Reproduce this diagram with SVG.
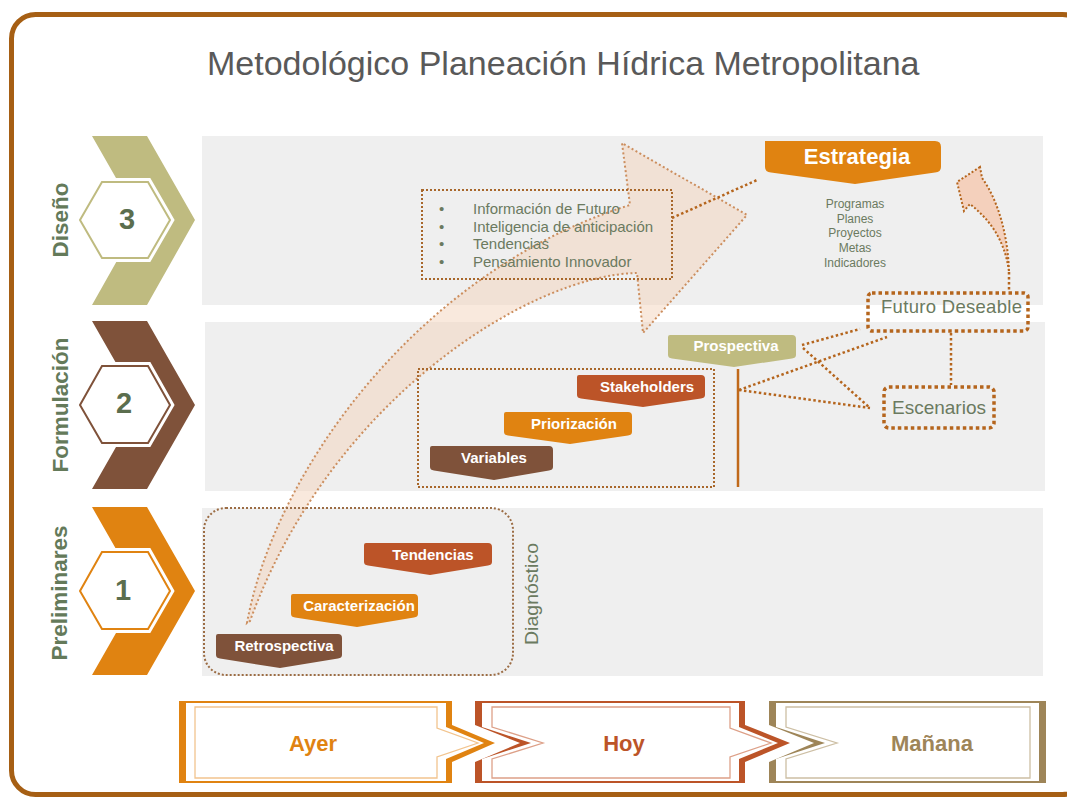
<svg xmlns="http://www.w3.org/2000/svg" width="1067" height="800" viewBox="0 0 1067 800">
<style>
.band{fill:#EFEFEF}
.side{font-family:"Liberation Sans",Arial,sans-serif;font-weight:bold;font-size:22.5px;fill:#647A5A;text-anchor:middle}
.num{font-family:"Liberation Sans",Arial,sans-serif;font-weight:bold;font-size:29px;fill:#5B6E4E;text-anchor:middle}
.lbl{font-family:"Liberation Sans",Arial,sans-serif;font-weight:bold;font-size:15px;fill:#FFFFFF;text-anchor:middle}
.soft{font-family:"Liberation Sans",Arial,sans-serif;fill:#6B7A60}
.dotThin{fill:none;stroke:#A8672B;stroke-width:2;stroke-dasharray:2 2}
.dotThick{fill:none;stroke:#B5651D;stroke-width:3.5;stroke-dasharray:3.5 3}
.conn{fill:none;stroke:#B5651D;stroke-width:2.5;stroke-dasharray:2.5 2.5}
.hexW{fill:#FFFFFF;stroke:#FFFFFF;stroke-width:8}
.big{font-family:"Liberation Sans",Arial,sans-serif;font-weight:bold;font-size:22px;text-anchor:middle}
</style>

<!-- frame -->
<rect x="11.5" y="14.5" width="1075" height="780" rx="24" fill="#FFFFFF" stroke="#A65F14" stroke-width="5"/>

<text x="207" y="75" font-family="'Liberation Sans',Arial,sans-serif" font-size="34" fill="#595959">Metodológico Planeación Hídrica Metropolitana</text>

<!-- bands -->
<rect class="band" x="202" y="136" width="841" height="169"/>
<rect class="band" x="205" y="322" width="840" height="169"/>
<rect class="band" x="202" y="508" width="841" height="168"/>

<!-- phase chevrons -->
<g id="phase3">
<polygon points="92,136 147,136 195,220 147,305 92,305 140,220" fill="#BFBB80"/>
<polygon class="hexW" points="80,220 102,182 148,182 170,220 148,258 102,258"/>
<polygon points="80,220 102,182 148,182 170,220 148,258 102,258" fill="#FFFFFF" stroke="#BFBB80" stroke-width="2"/>
<text class="num" x="127" y="229">3</text>
<text class="side" transform="translate(68,220) rotate(-90)">Diseño</text>
</g>
<g id="phase2">
<polygon points="92,321 147,321 195,405 147,489 92,489 140,405" fill="#7F523A"/>
<polygon class="hexW" points="80,405 102,366 148,366 170,405 148,443 102,443"/>
<polygon points="80,405 102,366 148,366 170,405 148,443 102,443" fill="#FFFFFF" stroke="#7F523A" stroke-width="2"/>
<text class="num" x="124" y="413">2</text>
<text class="side" transform="translate(68,405) rotate(-90)">Formulación</text>
</g>
<g id="phase1">
<polygon points="92,507 147,507 195,591 147,675 92,675 140,591" fill="#E08311"/>
<polygon class="hexW" points="80,591 102,552 148,552 170,591 148,629 102,629"/>
<polygon points="80,591 102,552 148,552 170,591 148,629 102,629" fill="#FFFFFF" stroke="#E08311" stroke-width="2"/>
<text class="num" x="123" y="600">1</text>
<text class="side" transform="translate(67,593) rotate(-90)">Preliminares</text>
</g>

<!-- connectors -->
<g id="connectors">
<path d="M247,623 C275,470 420,270 630,205 L622,143 L747,215 L643,333 L637,273 C530,275 330,400 250,621 Z" fill="#F4D3BC" fill-opacity="0.5" stroke="#CC8E5E" stroke-width="2" stroke-dasharray="2 2.5"/>
<path d="M980,167 L957,182 L964,211 L970,204 C990,220 1005,240 1009,272 C1008,235 998,200 982,178 Z" fill="#F4D0BC" stroke="#B5651D" stroke-width="2" stroke-dasharray="2 2"/>
<line x1="738" y1="369" x2="738" y2="487" stroke="#C0691A" stroke-width="2.5"/>
<line class="conn" x1="672" y1="218" x2="757" y2="180"/>
<line class="conn" x1="802" y1="345" x2="860" y2="329"/>
<line class="conn" x1="803" y1="348" x2="870" y2="408"/>
<line class="conn" x1="739" y1="390" x2="887" y2="337"/>
<line class="conn" x1="739" y1="390" x2="870" y2="408"/>
<line class="conn" x1="951" y1="333" x2="951" y2="385"/>
<line class="conn" x1="1009" y1="272" x2="1009" y2="291"/>
</g>

<!-- diagnostico group -->
<g id="diagnostico">
<rect x="204" y="508" width="309" height="167" rx="22" fill="none" stroke="#9C6D45" stroke-width="2" stroke-dasharray="2 2"/>
<text class="soft" font-size="18" text-anchor="middle" transform="translate(538,594) rotate(-90)" textLength="102" lengthAdjust="spacingAndGlyphs">Diagnóstico</text>
</g>
<g id="tendencias1">
<path d="M366,543 H488 Q492,543 492,547 V562 Q492,565 488,565.5 L430,575 L368,565.5 Q364,565 364,562 V545 Q364,543 366,543 Z" fill="#BC5428"/>
<text class="lbl" x="433" y="560">Tendencias</text>
</g>
<g id="caracterizacion">
<path d="M293,594 H414 Q418,594 418,598 V614 Q418,617 414,617.5 L357,627 L295,617.5 Q291,617 291,614 V596 Q291,594 293,594 Z" fill="#E08311"/>
<text class="lbl" x="359" y="611">Caracterización</text>
</g>
<g id="retrospectiva">
<path d="M218,634 H338 Q342,634 342,638 V655 Q342,658 338,658.5 L280,668 L220,658.5 Q216,658 216,655 V636 Q216,634 218,634 Z" fill="#7F523A"/>
<text class="lbl" x="284" y="651">Retrospectiva</text>
</g>

<!-- formulacion group -->
<g id="formulacion">
<rect class="dotThin" x="418" y="369" width="296" height="118"/>
</g>
<g id="stakeholders">
<path d="M579,375 H701 Q705,375 705,379 V395 Q705,398 701,398.5 L643,407 L581,398.5 Q577,398 577,395 V377 Q577,375 579,375 Z" fill="#BC5428"/>
<text class="lbl" x="647" y="392">Stakeholders</text>
</g>
<g id="priorizacion">
<path d="M506,412 H628 Q632,412 632,416 V432 Q632,435 628,435.5 L570,444 L508,435.5 Q504,435 504,432 V414 Q504,412 506,412 Z" fill="#E08311"/>
<text class="lbl" x="574" y="429">Priorización</text>
</g>
<g id="variables">
<path d="M432,446 H549 Q553,446 553,450 V467 Q553,470 549,470.5 L494,480 L434,470.5 Q430,470 430,467 V448 Q430,446 432,446 Z" fill="#7F523A"/>
<text class="lbl" x="494" y="463">Variables</text>
</g>
<g id="prospectiva">
<path d="M670,335 H792 Q796,335 796,339 V355 Q796,358 792,358.5 L734,367 L672,358.5 Q668,358 668,355 V337 Q668,335 670,335 Z" fill="#BFBB80"/>
<text class="lbl" x="736" y="351">Prospectiva</text>
</g>

<!-- diseno group -->
<g id="estrategia">
<path d="M765,141 H935 Q941,141 941,147 V167 Q941,172 935,172.5 L855,184 L771,172.5 Q765,172 765,167 Z" fill="#E08311"/>
<text class="big" x="857" y="164" fill="#FFFFFF">Estrategia</text>
<g class="soft" font-size="12" text-anchor="middle">
<text x="855" y="208">Programas</text>
<text x="855" y="223">Planes</text>
<text x="855" y="237">Proyectos</text>
<text x="855" y="252">Metas</text>
<text x="855" y="267">Indicadores</text>
</g>
</g>
<g id="info">
<rect class="dotThin" x="422" y="190" width="250" height="89"/>
<g class="soft" font-size="15">
<text x="439" y="214">•</text><text x="473" y="214">Información de Futuro</text>
<text x="439" y="232">•</text><text x="473" y="232">Inteligencia de anticipación</text>
<text x="439" y="249">•</text><text x="473" y="249">Tendencias</text>
<text x="439" y="267">•</text><text x="473" y="267">Pensamiento Innovador</text>
</g>
</g>
<g id="futuro">
<rect class="dotThick" x="868" y="293" width="160" height="38" rx="4"/>
<text class="soft" x="881" y="313" font-size="18.5" textLength="141" lengthAdjust="spacing">Futuro Deseable</text>
</g>
<g id="escenarios">
<rect class="dotThick" x="884" y="387" width="110" height="41" rx="5"/>
<text class="soft" x="939" y="414" font-size="19" text-anchor="middle">Escenarios</text>
</g>

<!-- timeline -->
<g id="ayer">
<path d="M179,701 H452 V725 L495,743 L452,762 V783 H179 Z" fill="#E08311"/>
<path d="M186,703 H446 V727 L484,743 L446,759 V781 H186 Z" fill="#FFFFFF"/>
<path d="M195,707 H437 V728 L478,743 L437,757 V778 H195 Z" fill="none" stroke="#F2C48E" stroke-width="1.3"/>
<text class="big" x="313" y="751" fill="#E08311">Ayer</text>
</g>
<g id="hoy">
<path d="M475,701 H745 V725 L790,743 L745,762 V783 H475 V762 L520,743 L475,725 Z" fill="#BC5428"/>
<path d="M482,703 H739 V727 L778,743 L739,759 V781 H482 V759 L531,743 L482,727 Z" fill="#FFFFFF"/>
<path d="M492,707 H730 V728 L771,743 L730,757 V778 H492 V759 L543,743 L492,727 Z" fill="none" stroke="#DDA088" stroke-width="1.3"/>
<text class="big" x="624" y="751" fill="#BC5428">Hoy</text>
</g>
<g id="manana">
<path d="M769,701 H1046 V783 H769 V762 L814,743 L769,725 Z" fill="#9E8558"/>
<path d="M776,703 H1039 V781 H776 V759 L825,743 L776,727 Z" fill="#FFFFFF"/>
<path d="M786,707 H1030 V778 H786 V759 L837,743 L786,727 Z" fill="none" stroke="#CDBFA4" stroke-width="1.3"/>
<text class="big" x="932" y="751" fill="#9E8558">Mañana</text>
</g>
</svg>
